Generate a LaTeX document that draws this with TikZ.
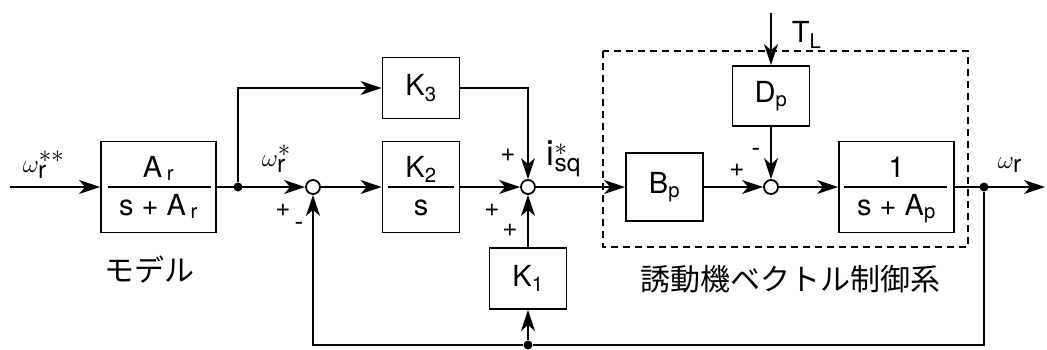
\documentclass[tikz,border=0pt]{standalone}
\usepackage{fontspec}
\setmainfont{TeX Gyre Heros}
\newfontfamily\jpfont{Noto Sans CJK JP}
\usetikzlibrary{arrows.meta, positioning}

\begin{document}
\begin{tikzpicture}[
        x = 1pt, y = -1pt,
        node distance = 100pt,
        on grid,
        line width = 1.8pt,
        >= {Stealth[length = 21pt, width = 14pt, inset = 6pt]},
        block/.style = {draw, minimum width = 77pt, minimum height = 61pt, inner sep = 0pt, font = \fontsize{29}{31}\selectfont},
        fracblock/.style = {block, minimum width = 115pt, minimum height = 91pt},
        sumpt/.style = {draw, circle, minimum size = 14pt, inner sep = 0pt, fill = white},
        joint/.style = {circle, fill, minimum size = 9pt, inner sep = 0pt},
        sig/.style = {font = \fontsize{26}{26}\selectfont, inner sep = 0pt},
        lbl/.style = {font = \fontsize{29}{31}\selectfont, inner sep = 0pt},
        wlbl/.style = {font = \fontsize{35}{37}\selectfont, inner sep = 0pt},
        jlbl/.style = {font = \jpfont\fontsize{30}{32}\selectfont, inner sep = 0pt},
        plant/.style = {line width = 1.4pt, dash pattern = on 7pt off 5pt}
    ]

        \useasboundingbox (0,0) rectangle (1047,349);

        % blocks
        \node[fracblock] (ar) at (158.5,187) {};
        \node[sumpt] (sum1) [right = 154.5pt of ar] {};
        \node[block, minimum height = 91pt] (k2) [right = 108pt of sum1] {};
        \node[sumpt] (sum2) [right = 107pt of k2] {};
        \node[block] (k3) [above = 99pt of k2] {K\textsubscript{3}};
        \node[block] (k1) [below = 91.5pt of sum2] {K\textsubscript{1}};
        \node[block, minimum height = 68pt] (bp) [right = 136.5pt of sum2] {B\textsubscript{p}};
        \node[sumpt] (sum3) [right = 106.5pt of bp] {};
        \node[block, minimum height = 60pt] (dp) [above = 91pt of sum3] {D\textsubscript{p}};
        \node[fracblock] (ap) [right = 125.5pt of sum3] {};

        % fractions
        \draw ([xshift = 8pt]ar.west) -- ([xshift = -6pt]ar.east);
        \node[lbl, anchor = base] (ar_num) at ([yshift = 10pt]ar.center) {A\,\textsubscript{r}};
        \node[lbl, anchor = base] (ar_den) at ([yshift = -28pt]ar.center) {s + A\,\textsubscript{r}};
        \draw ([xshift = 6pt]k2.west) -- ([xshift = -6pt]k2.east);
        \node[lbl, anchor = base] (k2_num) at ([yshift = 10pt]k2.center) {K\textsubscript{2}};
        \node[lbl, anchor = base] (k2_den) at ([yshift = -28pt]k2.center) {s};
        \draw ([xshift = 6pt]ap.west) -- ([xshift = -8pt]ap.east);
        \node[lbl, anchor = base] (ap_num) at ([yshift = 10pt]ap.center) {1};
        \node[lbl, anchor = base] (ap_den) at ([yshift = -28pt]ap.center) {s + A\textsubscript{p}};

        % plant
        \draw[plant] (603,51) rectangle (968,247);

        % branch points
        \coordinate (in) at (10,187);
        \coordinate (out) at (1045,187);
        \coordinate (tl) at (771,13);
        \node[joint] (br1) at (238,187) {};
        \node[joint] (br2) [right = 87.5pt of ap] {};
        \node[joint] (br3) at (528,345) {};

        % signals
        \draw[->] (in) -- (ar);
        \draw[->] (ar) -- (sum1);
        \draw[->] (br1) |- (k3);
        \draw[->] (k3) -| (sum2);
        \draw[->] (sum1) -- (k2);
        \draw[->] (k2) -- (sum2);
        \draw[->] (sum2) -- (bp);
        \draw[->] (bp) -- (sum3);
        \draw[->] (tl) -- (dp);
        \draw[->] (dp) -- (sum3);
        \draw[->] (sum3) -- (ap);
        \draw[->] (ap) -- (out);
        \draw[->] (br2) |- (br3) -| (sum1);
        \draw[->] (br3) -- (k1);
        \draw[->] (k1) -- (sum2);

        % signal names
        \node[wlbl, anchor = base west] (w_ref2) at (22,172) {$\omega_{\mathrm{r}}^{**}$};
        \node[wlbl, anchor = base west] (w_ref) at (261,166) {$\omega_{\mathrm{r}}^{*}$};
        \node[wlbl, anchor = base west] (i_ref) at (546,165) {$\mathrm{i}_{\mathrm{sq}}^{*}$};
        \node[wlbl, anchor = base west] (w_out) at (997,168) {$\omega_{\mathrm{r}}$};
        \node[lbl, anchor = base west] (t_load) at (791,42) {T\textsubscript{L}};

        % signs
        \node[sig] (s1a) at (283,210) {+};
        \node[sig] (s1b) at (299,226) {-};
        \node[sig] (s2a) at (508,155) {+};
        \node[sig] (s2b) at (492,210) {+};
        \node[sig] (s2c) at (510,230) {+};
        \node[sig] (s3a) at (737,170) {+};
        \node[sig] (s3b) at (756,152) {-};

        % captions
        \node[jlbl] (model) at (149,270) {モデル};
        \node[jlbl] (motor) at (790,279) {誘動機ベクトル制御系};

\end{tikzpicture}
\end{document}
